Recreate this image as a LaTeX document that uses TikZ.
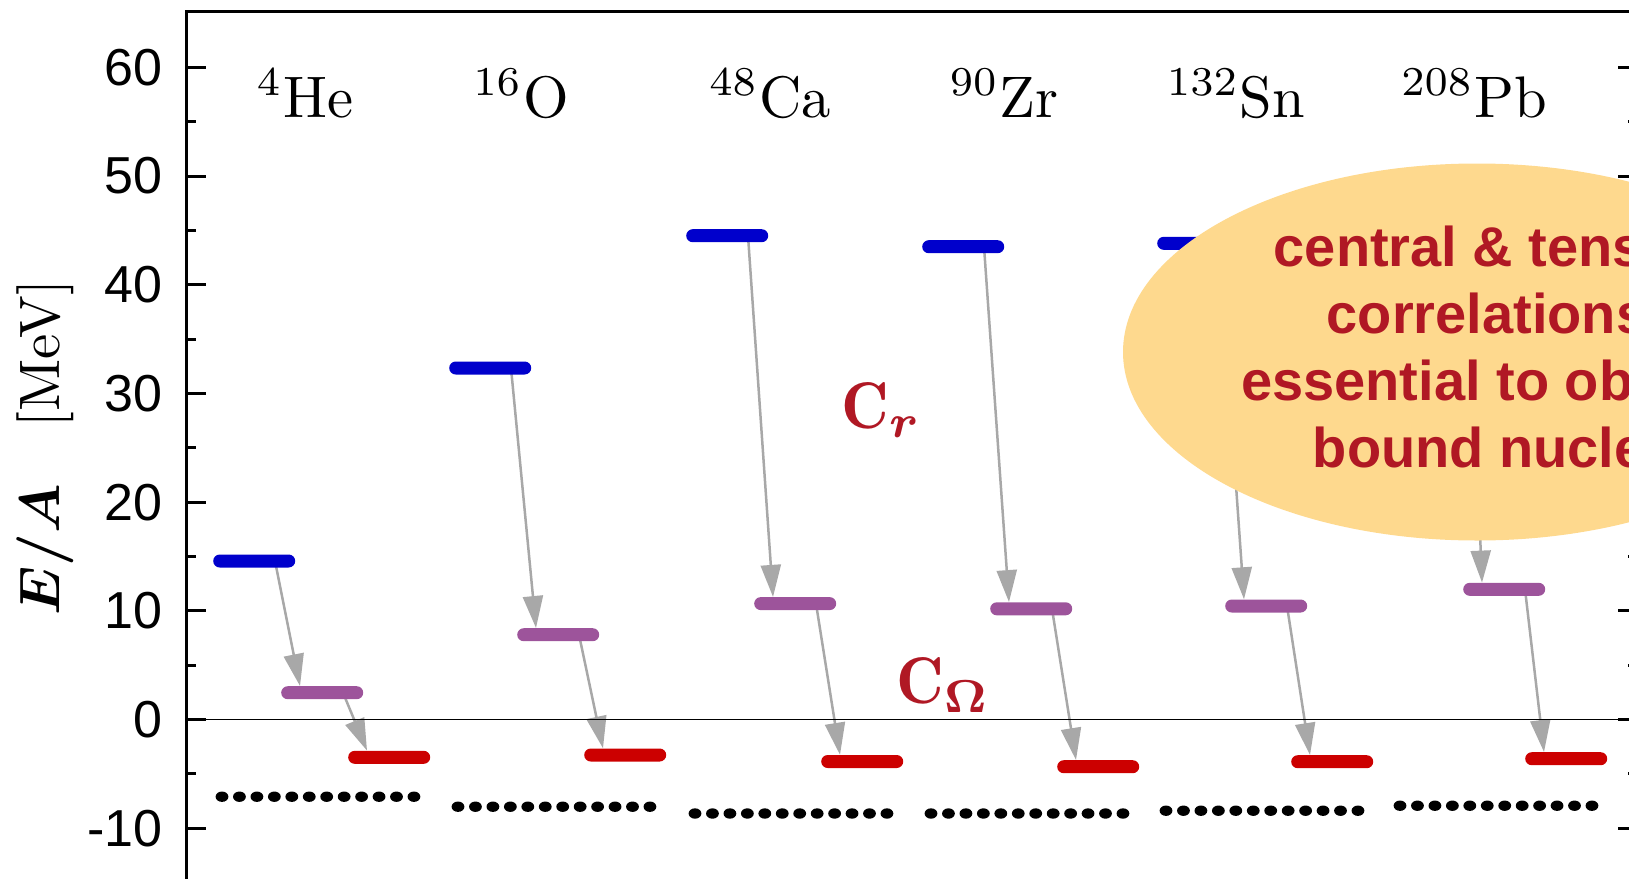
\documentclass[tikz,border=0pt]{standalone}
\usepackage{fix-cm}
\usepackage{graphicx}
\usepackage{bm}
\usepackage{fontspec}
\newfontfamily\arialfont{Liberation Sans}
\usetikzlibrary{arrows.meta,shapes.geometric,calc,backgrounds}
\definecolor{cblue}{RGB}{0,0,204}
\definecolor{cpur}{RGB}{157,84,155}
\definecolor{cred}{RGB}{204,0,0}
\definecolor{cgray}{RGB}{168,168,168}
\definecolor{ctext}{RGB}{176,24,36}
\definecolor{cyel}{RGB}{254,217,142}
\tikzset{
  bar/.style={rectangle, rounded corners=6.5pt, minimum width=82pt, minimum height=13pt, inner sep=0pt, anchor=west},
  bluebar/.style={bar, fill=cblue},
  purbar/.style={bar, fill=cpur},
  redbar/.style={bar, fill=cred},
  conn/.style={draw=cgray, line width=2.5pt, -{Triangle[length=32pt,width=20pt]}},
  axisline/.style={line width=3pt, line cap=rect},
  ticklab/.style={anchor=east, inner sep=0pt, font=\arialfont\fontsize{52}{60}\selectfont},
  nuclab/.style={anchor=base, inner sep=0pt, font=\fontsize{10}{12}\selectfont},
  clab/.style={anchor=base west, inner sep=0pt, text=ctext, font=\fontsize{10}{12}\selectfont},
}
\begin{document}
\begin{tikzpicture}[x=1pt,y=-1pt]
\useasboundingbox (0,0) rectangle (1629,878);
\clip (0,0) rectangle (1629,878);
% frame
\draw[line width=1pt] (186,719.5) -- (1638,719.5);
\draw[axisline] (186,900) -- (186,11.5) -- (1638,11.5) -- (1638,900);
\foreach \v in {-10,0,...,60} {
  \pgfmathsetmacro\yy{719.5-10.87*\v}
  \draw[line width=3pt] (186,\yy) -- (206,\yy);
  \draw[line width=3pt] (1638,\yy) -- (1618,\yy);
  \node[ticklab] (t\v) at (163,\yy) {\v};
}
\foreach \v in {-5,5,...,55} {
  \pgfmathsetmacro\yy{719.5-10.87*\v}
  \draw[line width=3pt] (186,\yy) -- (196,\yy);
  \draw[line width=3pt] (1638,\yy) -- (1628,\yy);
}
% axis label
\node[rotate=90, inner sep=0pt, font=\fontsize{10}{12}\selectfont] (ylab) at (45.5,448) {\scalebox{5.7}{$\bm{E/A}$\quad[MeV]}};
% nucleus labels
\node[nuclab] (nHe) at (305,117) {\scalebox{5.86}{$^{4}$He}};
\node[nuclab] (nO)  at (521,117) {\scalebox{5.86}{$^{16}$O}};
\node[nuclab] (nCa) at (770,117) {\scalebox{5.86}{$^{48}$Ca}};
\node[nuclab] (nZr) at (1004,117) {\scalebox{5.86}{$^{90}$Zr}};
\node[nuclab] (nSn) at (1236,117) {\scalebox{5.86}{$^{132}$Sn}};
\node[nuclab] (nPb) at (1474,117) {\scalebox{5.86}{$^{208}$Pb}};
% levels: name / blue x,y / purple x,y / red x,y / dots x,y
\foreach \n/\xb/\yb/\xp/\yp/\xr/\yr/\xd/\yd in {
   He/213/561/281/692.7/348/757.3/213/796.7,
   O/449/368/517/634.7/584/755/449/806.7,
   Ca/686/235.7/754/603.6/821/761.5/686/813.5,
   Zr/922/246.7/990/608.8/1057/766.7/922/813.5,
   Sn/1157/243.3/1225/606/1291/761.7/1157/810.7,
   Pb/1405/214/1463/589.3/1525/758.7/1391/805.7} {
  \node[bluebar] (b\n) at (\xb,\yb) {};
  \node[purbar] (p\n) at (\xp,\yp) {};
  \node[redbar] (r\n) at (\xr,\yr) {};
  \begin{scope}[on background layer]
    \draw[conn] ($(b\n.west)+(62,0)$) -- ($(p\n.north west)+(19,0)$);
    \draw[conn] ($(p\n.west)+(62,0)$) -- ($(r\n.north west)+(19,0)$);
  \end{scope}
  \foreach \k in {0,...,11} {
    \fill (\xd+9+17.45*\k,\yd) ellipse [x radius=6.4, y radius=5.2];
  }
}
% correlation labels
\node[clab] (cr) at (841,428) {\scalebox{6.6}{$\mathbf{C}_{\bm{r}}$}};
\node[clab] (co) at (896,703) {\scalebox{6.6}{$\mathbf{C}_{\bm{\Omega}}$}};
% bubble
\node[ellipse, fill=cyel, minimum width=708pt, minimum height=377pt, inner sep=0pt] (blob) at (1477,352) {};
\node[text=ctext, align=center, inner sep=0pt, font=\arialfont\bfseries\fontsize{56}{66.7}\selectfont] (note) at (1487,347) {central \& tensor\\correlations\\essential to obtain\\bound nuclei};
\end{tikzpicture}
\end{document}
